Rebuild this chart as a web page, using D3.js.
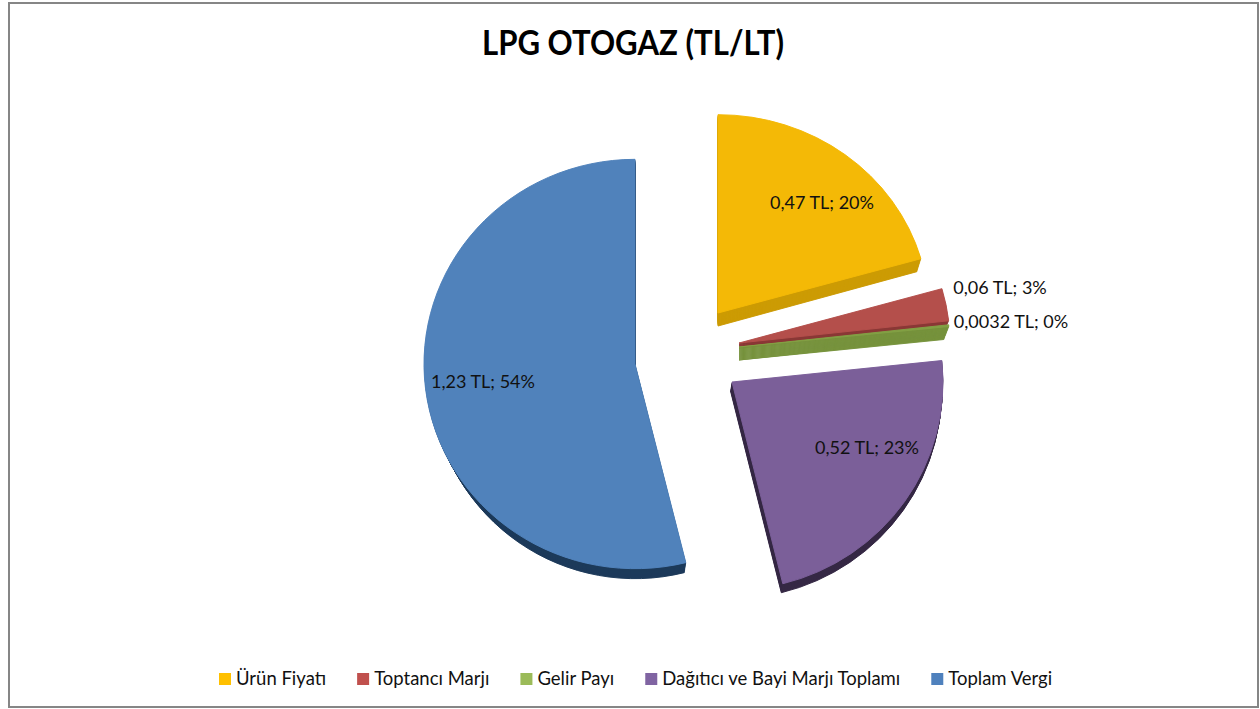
<!DOCTYPE html>
<html>
<head>
<meta charset="utf-8">
<script src="https://cdn.jsdelivr.net/npm/d3@7/dist/d3.min.js"></script>
<style>
  html, body { margin: 0; padding: 0; background: #fff; overflow: hidden; }
  text { font-family: Lato, "Open Sans", sans-serif; fill: #111; }
</style>
</head>
<body>
<div id="chart"></div>
<script>
// data
var categories = ["Ürün Fiyatı", "Toptancı Marjı", "Gelir Payı", "Dağıtıcı ve Bayi Marjı Toplamı", "Toplam Vergi"];
var values = [0.47, 0.06, 0.0032, 0.52, 1.23];
var valueLabels = ["0,47 TL; 20%", "0,06 TL; 3%", "0,0032 TL; 0%", "0,52 TL; 23%", "1,23 TL; 54%"];

// colours
var topColors = ["#f4b906", "#b44f4b", "#82a044", "#7b5f99", "#5082bb"];
var sideColors = ["#cc9b04", "#8a3836", "#76923c", "#352845", "#1d3a5a"];
var legendColors = ["#ffc000", "#c0504d", "#9bbb59", "#8064a2", "#4f81bd"];

// layout, all per slice: explode offset, vertical squash, extrusion, label offset
var svgWidth = 1260;
var svgHeight = 709;
var center = { x: 687, y: 359 };
var radius = 211;
var explode = [[31, -46], [52, -16], [52, -12], [45, 23], [-52, 5]];
var squash = [0.94, 0.94, 0.94, 0.985, 0.97];
var depth = [[0, 13], [0, 5], [0, 13], [-1.5, 9], [0, 10]];
var converge = [0.02, 0.01, 0.024, 0, 0.03];   // side shrinks toward the bottom (perspective)
var labelOffset = [[104, -110], [261, -55], [272, -25], [135, 66], [-152, 18]];
var drawOrder = [4, 3, 0, 1, 2];

var svg = d3.select("#chart")
    .append("svg")
    .attr("width", svgWidth)
    .attr("height", svgHeight);

// chart frame
svg.append("rect")
    .attr("x", 9)
    .attr("y", 3)
    .attr("width", 1249)
    .attr("height", 704)
    .attr("fill", "#fff")
    .attr("stroke", "#868686")
    .attr("stroke-width", 2);

// title
svg.append("text")
    .attr("x", 633)
    .attr("y", 55)
    .attr("text-anchor", "middle")
    .attr("textLength", 302)
    .attr("lengthAdjust", "spacingAndGlyphs")
    .style("font-size", "35px")
    .style("font-weight", "bold")
    .style("fill", "#000")
    .text("LPG OTOGAZ (TL/LT)");

// pie layout, clockwise from 12 o'clock
var pie = d3.pie().sort(null);
var slices = pie(values);

var arc = d3.arc()
    .innerRadius(0)
    .outerRadius(radius);

var pieGroup = svg.append("g");

drawOrder.forEach(function (i) {
    var ox = center.x + explode[i][0];
    var oy = center.y + explode[i][1];
    var steps = d3.range(depth[i][1], 0, -1);

    // side of the slice: stacked copies going down
    pieGroup.selectAll("path.side" + i)
        .data(steps)
        .enter()
        .append("path")
        .attr("class", "side" + i)
        .attr("d", arc(slices[i]))
        .attr("fill", sideColors[i])
        .attr("stroke", sideColors[i])
        .attr("stroke-width", 1)
        .attr("transform", function (s) {
            var t = s / depth[i][1];
            return `translate(${ox + depth[i][0] * t},${oy + s}) scale(${1 - converge[i] * t},${squash[i]})`;
        });

    // top of the slice, same stroke so no side colour peeks out at the edges
    pieGroup.append("path")
        .attr("d", arc(slices[i]))
        .attr("fill", topColors[i])
        .attr("stroke", topColors[i])
        .attr("stroke-width", 1)
        .attr("transform", `translate(${ox},${oy}) scale(1,${squash[i]})`);
});

// data labels
svg.selectAll("text.label")
    .data(valueLabels)
    .enter()
    .append("text")
    .attr("class", "label")
    .attr("text-anchor", "middle")
    .attr("x", function (d, i) { return center.x + explode[i][0] + labelOffset[i][0]; })
    .attr("y", function (d, i) { return center.y + explode[i][1] + labelOffset[i][1] + 6; })
    .style("font-size", "18px")
    .text(function (d) { return d; });

// legend, laid out from the measured text widths
var legendX = 219;
var legendY = 679;
categories.forEach(function (name, i) {
    svg.append("rect")
        .attr("x", legendX)
        .attr("y", legendY - 6)
        .attr("width", 12)
        .attr("height", 12)
        .attr("fill", legendColors[i]);

    var label = svg.append("text")
        .attr("x", legendX + 17)
        .attr("y", legendY + 6)
        .style("font-size", "18.5px")
        .text(name);

    legendX += 17 + label.node().getComputedTextLength() + 31;
});
</script>
</body>
</html>
